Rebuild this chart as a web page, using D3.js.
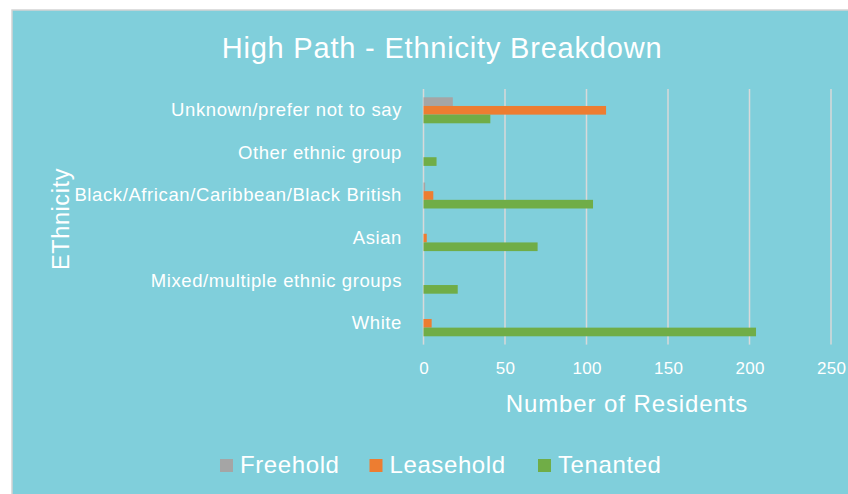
<!DOCTYPE html>
<html><head><meta charset="utf-8">
<script src="https://cdn.jsdelivr.net/npm/d3@7"></script>
<style>html,body{margin:0;padding:0;background:#fff;}svg{display:block;}</style>
</head><body>
<svg id="c" width="848" height="494"></svg>
<script>
const categories = ["Unknown/prefer not to say","Other ethnic group","Black/African/Caribbean/Black British","Asian","Mixed/multiple ethnic groups","White"];
const seriesNames = ["Freehold","Leasehold","Tenanted"];
const freehold = [18, 0, 1, 0, 0, 0];
const leasehold = [112, 0, 6, 2, 0, 5];
const tenanted = [41, 8, 104, 70, 21, 204];
const xTicks = [0, 50, 100, 150, 200, 250];
const colors = ["#A5A5A5", "#ED7D31", "#70AD47"];

const values = [freehold, leasehold, tenanted];
const font = "'Liberation Sans', Arial, sans-serif";
const svg = d3.select("#c");

svg.append("rect").attr("x", 12).attr("y", 10).attr("width", 850).attr("height", 500)
  .attr("fill", "#80CFDB").attr("stroke", "#D4D4D4").attr("stroke-width", 1.5);

const x = d3.scaleLinear().domain([0, 250]).range([423.5, 831]);
const y0 = d3.scaleBand().domain(categories).range([89, 344.6]).padding(0);
const groupFrac = 0.61;
const y1 = d3.scaleBand().domain(seriesNames)
  .range([y0.bandwidth() * (1 - groupFrac) / 2, y0.bandwidth() * (1 + groupFrac) / 2]);

// gridlines
svg.append("g").selectAll("line").data(xTicks).join("line")
  .attr("x1", d => x(d)).attr("x2", d => x(d))
  .attr("y1", 89).attr("y2", 344.6)
  .attr("stroke", "#D9D9D9").attr("stroke-width", 1.5);

// bars
const g = svg.append("g");
categories.forEach((c, ci) => {
  seriesNames.forEach((s, si) => {
    const v = values[si][ci];
    if (v > 0) {
      g.append("rect")
        .attr("x", x(0))
        .attr("y", y0(c) + y1(s))
        .attr("width", x(v) - x(0))
        .attr("height", y1.bandwidth())
        .attr("fill", colors[si]);
    }
  });
});

// x axis
const xAxis = svg.append("g").attr("transform", "translate(0,344.6)")
  .call(d3.axisBottom(x).tickValues(xTicks).tickSize(0).tickPadding(17));
xAxis.select(".domain").remove();
xAxis.selectAll("text").attr("fill", "#fff").style("font-family", font).style("font-size", "17px")
  .style("letter-spacing", "0.3px");

// y axis
const yAxis = svg.append("g").attr("transform", "translate(402,0)")
  .call(d3.axisLeft(y0).tickSize(0).tickPadding(0));
yAxis.select(".domain").remove();
yAxis.selectAll("text").attr("fill", "#fff").style("font-family", font).style("font-size", "18.5px")
  .style("letter-spacing", "0.6px");

// title
svg.append("text").attr("x", 442).attr("y", 58).attr("text-anchor", "middle")
  .attr("fill", "#fff").style("font-family", font).style("font-size", "29px")
  .style("letter-spacing", "0.8px")
  .text("High Path - Ethnicity Breakdown");

// axis titles
svg.append("text").attr("x", 627).attr("y", 412).attr("text-anchor", "middle")
  .attr("fill", "#fff").style("font-family", font).style("font-size", "24px")
  .style("letter-spacing", "0.9px")
  .text("Number of Residents");
svg.append("text").attr("transform", "translate(69,219) rotate(-90)").attr("text-anchor", "middle")
  .attr("fill", "#fff").style("font-family", font).style("font-size", "23.5px")
  .style("letter-spacing", "0.6px")
  .text("EThnicity");

// legend
const legendX = [220, 369.5, 538];
const leg = svg.append("g");
seriesNames.forEach((s, i) => {
  leg.append("rect").attr("x", legendX[i]).attr("y", 459).attr("width", 13).attr("height", 13).attr("fill", colors[i]);
  leg.append("text").attr("x", legendX[i] + 20).attr("y", 473)
    .attr("fill", "#fff").style("font-family", font).style("font-size", "24px")
    .style("letter-spacing", "0.6px").text(s);
});
</script>
</body></html>
